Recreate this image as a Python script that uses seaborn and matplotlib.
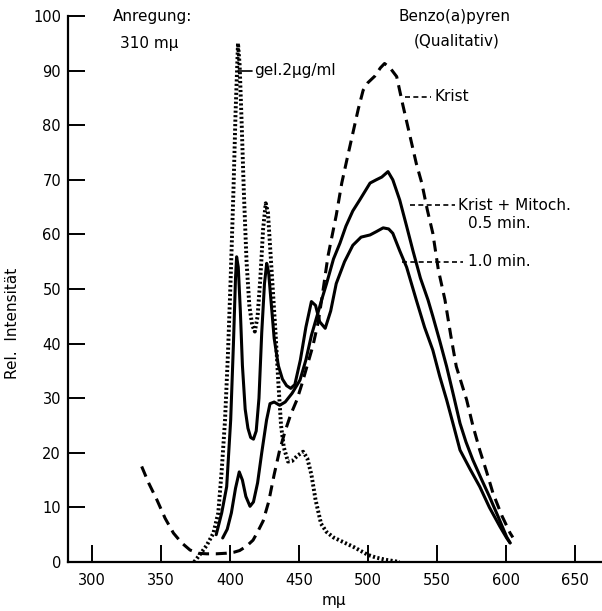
import matplotlib
matplotlib.use("Agg")
import matplotlib.pyplot as plt
import seaborn as sns
import pandas as pd

# ---------------- data ----------------
gel_x = [374, 378, 383, 388, 391.5, 394, 396.4, 398.5, 400.5, 402.5, 404, 405.8, 407,
         408.5, 410, 412, 414, 416, 418, 420, 422, 424, 425.9, 427.5, 429, 431, 433,
         435, 437, 439, 442, 445, 449, 453, 456, 459, 462, 466, 470, 475, 480, 485,
         490, 495, 500, 506, 513, 523]
gel_y = [0, 1.3, 3, 5.3, 9, 16.8, 26, 38, 52, 68, 82, 95, 91,
         80, 68, 55, 47, 43.5, 42.2, 45, 52, 61, 65.7, 64, 58, 50, 42,
         33, 25, 21, 18.4, 18.5, 19.5, 20.2, 19, 16, 11.4, 7, 5.5, 4.5, 3.9, 3.3,
         2.7, 2, 1.3, 0.8, 0.4, 0]

krist_x = [336, 341, 347, 353, 359, 365, 371, 377, 383, 390, 397, 403, 407, 412,
           416.7, 420, 424, 428, 432, 436, 440, 444, 448.5, 452, 456, 460, 464, 467,
           471, 477, 481, 485, 489, 493, 496.5, 500, 505, 509, 512, 516, 520.8, 525,
           530, 535, 539, 543, 547, 551, 555.8, 560, 564, 571.5, 576, 581, 586,
           590.6, 597, 603, 605]
krist_y = [17.5, 14.5, 11.4, 8, 5.3, 3.5, 2.2, 1.6, 1.5, 1.5, 1.6, 1.8, 2.1, 2.9,
           4, 5.5, 7.5, 11, 16, 20.5, 24, 27, 29.7, 32.5, 36, 39.5, 44, 49,
           56, 63.5, 69.4, 74, 78.5, 83, 86.4, 87.8, 89, 90.5, 91.3, 90.5, 88.9, 84,
           78.5, 73, 69.4, 64.5, 60.2, 53.5, 48, 41.5, 35.8, 29.7, 25, 20.5, 16.5,
           12.6, 8.5, 5.3, 4.5]

mit05_x = [394.7, 398, 401, 404, 406.7, 409, 411.5, 414.5, 417, 420, 423, 426.5, 429,
           432, 436, 440, 445, 450.7, 455, 459, 463, 467, 470, 475, 479.7, 484, 489,
           494, 501.5, 506, 510, 514.5, 518, 523, 528, 532.6, 538, 543.5, 547, 552,
           557, 562, 566.7, 571, 576, 582, 588, 594, 600.5, 603]
mit05_y = [4.4, 6, 9, 13.5, 16.5, 15, 12, 10.2, 11, 14.5, 20, 26, 29,
           29.3, 28.7, 29.3, 30.9, 33.3, 37, 41.5, 45, 48.5, 51, 55.5, 58.4, 61.5, 64.3,
           66.3, 69.4, 70, 70.5, 71.5, 70, 66.3, 61.5, 57, 52, 48, 45, 40.5,
           35.8, 30.5, 25.4, 22, 18.7, 15.3, 12, 8.5, 4.6, 3.5]

mit10_x = [390, 394, 397.6, 400.5, 402.5, 404, 404.8, 406, 407.5, 409, 411, 413, 415,
           417, 419, 421, 423, 425, 426.6, 428, 430, 432, 435, 438, 441, 444, 447,
           451, 455, 459, 462, 465, 469, 473, 477, 483, 489, 495, 501.5, 506, 511,
           515, 518, 523, 528, 535, 541, 547, 552, 557, 562, 566.7, 574, 581, 588,
           595.6, 600.5, 603]
mit10_y = [5, 9, 13.8, 26, 40, 52, 55.9, 54, 46, 36, 28, 24.5, 22.8,
           22.5, 24, 30, 42, 51, 54.7, 53, 47, 41, 36, 33.5, 32.3, 31.8, 32.5,
           37, 43, 47.7, 47, 44, 42.8, 46, 51, 55, 58, 59.5, 59.9, 60.5, 61.2,
           61, 60.2, 57, 54, 48, 43, 38.8, 34, 29.7, 25, 20.5, 17, 13.8, 10,
           6.5, 4.4, 3.5]

x_ticks = [300, 350, 400, 450, 500, 550, 600, 650]
y_ticks = [0, 10, 20, 30, 40, 50, 60, 70, 80, 90, 100]

# ---------------- styling ----------------
sns.set_theme(style="ticks")
FAM = ["Liberation Sans Narrow", "DejaVu Sans"]
plt.rcParams["font.family"] = FAM

W, H = 602, 611
fig = plt.figure(figsize=(W / 100, H / 100), dpi=100)
ax = fig.add_axes([68 / W, 1 - 562 / H, (W - 68) / W, (562 - 16) / H])

def draw(xs, ys, **kw):
    df = pd.DataFrame({"x": xs, "y": ys})
    sns.lineplot(data=df, x="x", y="y", sort=False, estimator=None, ax=ax,
                 color="black", legend=False, **kw)

draw(gel_x, gel_y, lw=2.8, linestyle=(0, (0.55, 0.6)))
draw(krist_x, krist_y, lw=2.2, linestyle=(0, (3.6, 2.2)))
draw(mit05_x, mit05_y, lw=2.2, linestyle="-")
draw(mit10_x, mit10_y, lw=2.2, linestyle="-")

ax.set_xlim(282.6, 669.6)
ax.set_ylim(0, 100)
ax.set_xticks(x_ticks)
ax.set_yticks(y_ticks)
ax.set_xticklabels([str(v) for v in x_ticks])
ax.set_yticklabels([str(v) for v in y_ticks])
ax.tick_params(axis="both", direction="in", length=12, width=1.4, colors="black",
               labelsize=10.5)
ax.tick_params(axis="y", pad=5)
ax.tick_params(axis="x", pad=8)
for s in ["top", "right"]:
    ax.spines[s].set_visible(False)
for s in ["left", "bottom"]:
    ax.spines[s].set_linewidth(1.6)
    ax.spines[s].set_color("black")
ax.set_xlabel("")
ax.set_ylabel("")
ax.patch.set_alpha(0)

tk = dict(color="black", fontsize=11, family=FAM)
fig.text(334 / W, 1 - 600 / H, "mμ", ha="center", va="center", **tk)
fig.text(13 / W, 1 - 323 / H, "Rel.  Intensität", rotation=90, ha="center",
         va="center", **tk)

ax.text(315, 100, "Anregung:", ha="left", va="center", clip_on=False, **tk)
ax.text(320, 95, "310 mμ", ha="left", va="center", clip_on=False, **tk)
ax.text(563, 100, "Benzo(a)pyren", ha="center", va="center", clip_on=False, **tk)
ax.text(564, 95.5, "(Qualitativ)", ha="center", va="center", clip_on=False, **tk)

lead = dict(color="black", lw=1.2, linestyle=(0, (3, 2)))
ax.plot([405.8, 416], [90, 90], color="black", lw=1.2)
ax.text(417.5, 90, "gel.2μg/ml", ha="left", va="center", **tk)
ax.plot([527, 546], [85.2, 85.2], **lead)
ax.text(548.5, 85.2, "Krist", ha="left", va="center", **tk)
ax.plot([530.5, 563], [65.3, 65.3], **lead)
ax.text(565, 65.3, "Krist + Mitoch.", ha="left", va="center", **tk)
ax.text(572.5, 62, "0.5 min.", ha="left", va="center", **tk)
ax.plot([525, 569], [55, 55], **lead)
ax.text(572.5, 55, "1.0 min.", ha="left", va="center", **tk)

fig.savefig("out.png", dpi=100, facecolor="white")
